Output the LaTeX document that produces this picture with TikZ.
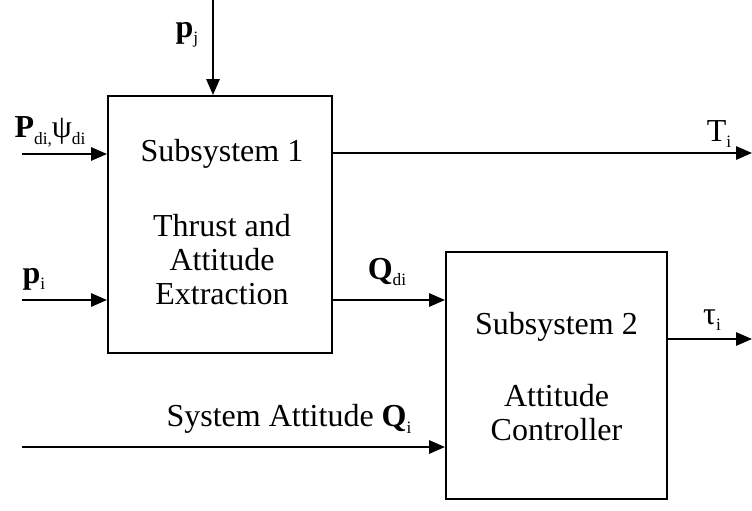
\documentclass[tikz,border=0pt]{standalone}
\usepackage{fontspec}
\setmainfont{Liberation Serif}
\usetikzlibrary{arrows.meta,positioning}

\newcommand{\idx}[1]{\raisebox{-0.45ex}{\fontsize{13}{13}\selectfont #1}}

\begin{document}
\begin{tikzpicture}[x=0.75pt,y=0.75pt,yscale=-1,xscale=1,
	every node/.style={font=\fontsize{24}{25.5}\selectfont},
	block/.style={draw,line width=1.5pt,inner sep=0pt},
	sig/.style={line width=1.5pt,-{Triangle[length=12pt,width=10pt]}}]
	\useasboundingbox (0,0) rectangle (752,510);
	
	%Blocks
	\node [block,minimum width=168pt,minimum height=192.75pt] (sub1) at (220,224.5) {};
	\node [block,minimum width=165.75pt,minimum height=185pt] (sub2) at (556.5,375.5) {};
	
	% Text inside blocks
	\node (t1) at (222,154) {Subsystem 1};
	\node [align=center] (t1b) at (222,260) {Thrust and\\Attitude\\Extraction};
	\node (t2) at (556.5,327) {Subsystem 2};
	\node [align=center] (t2b) at (556.5,413) {Attitude\\Controller};
	
	% Free ends
	\coordinate (pj) at (213,0);
	\coordinate (pd) at (22,154);
	\coordinate (pi) at (22,300);
	\coordinate (qs) at (22,447);
	\coordinate (ti) at (752,153);
	\coordinate (qd) at (446,300);
	\coordinate (tau) at (752,339);
	
	% Signals
	\draw [sig] (pj) -- (pj |- sub1.north);
	\draw [sig] (pd) -- (pd -| sub1.west);
	\draw [sig] (pi) -- (pi -| sub1.west);
	\draw [sig] (ti -| sub1.east) -- (ti);
	\draw [sig] (qd -| sub1.east) -- (qd -| sub2.west);
	\draw [sig] (tau -| sub2.east) -- (tau);
	\draw [sig] (qs) -- (qs -| sub2.west);
	
	% Labels
	\node (lpj) at (187,35) {\textbf{p}\idx{j}};
	\node (lpd) at (50,132) {\textbf{P}\idx{di,}ψ\idx{di}};
	\node (lpi) at (34,279) {\textbf{p}\idx{i}};
	\node (lti) at (719,134) {T\idx{i}};
	\node (lqd) at (387,272) {\textbf{Q}\idx{di}};
	\node (ltau) at (712,320) {τ\idx{i}};
	\node (lqs) at (289,419) {System Attitude \textbf{Q}\idx{i}};
\end{tikzpicture}
\end{document}
